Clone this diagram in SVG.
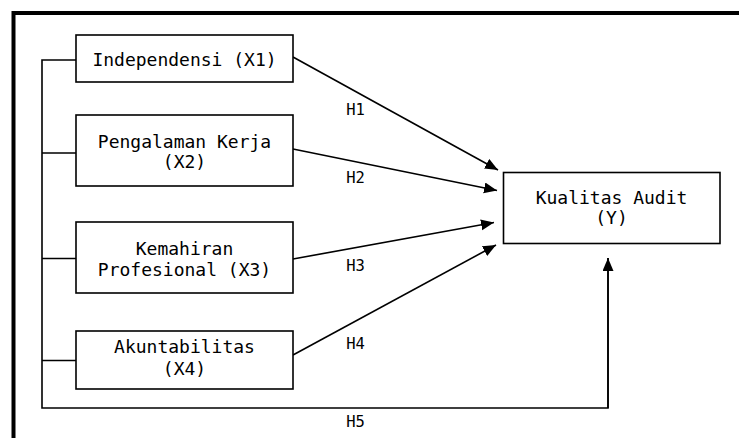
<svg xmlns="http://www.w3.org/2000/svg" width="739" height="438" viewBox="0 0 739 438">
<style>
.box{fill:#fff;stroke:#000;stroke-width:1.6}
.t{font-family:"DejaVu Sans Mono","Liberation Mono",monospace;font-size:18px;fill:#000;text-anchor:middle}
.h{font-family:"DejaVu Sans Mono","Liberation Mono",monospace;font-size:15.5px;fill:#000;text-anchor:middle}
.c{fill:none;stroke:#000;stroke-width:1.6}
</style>
<defs>
<marker id="ah" markerUnits="userSpaceOnUse" markerWidth="14" markerHeight="12" refX="13" refY="5.5" orient="auto">
<path d="M0,0 L13,5.5 L0,11 z" fill="#000"/>
</marker>
</defs>
<rect width="739" height="438" fill="#fff"/>
<path d="M13.5,438 V13 H739" fill="none" stroke="#000" stroke-width="4"/>
<g id="connectors">
<path class="c" d="M76,60 H42 V408 H608 V258"/>
<path class="c" d="M42,153 H76 M42,258.5 H76 M42,360.5 H76"/>
<line class="c" x1="608" y1="408" x2="608" y2="258" marker-end="url(#ah)"/>
<line class="c" x1="293" y1="57" x2="498" y2="170" marker-end="url(#ah)"/>
<line class="c" x1="293" y1="149" x2="497" y2="190.5" marker-end="url(#ah)"/>
<line class="c" x1="293" y1="259" x2="494" y2="222.5" marker-end="url(#ah)"/>
<line class="c" x1="293" y1="355" x2="496" y2="245" marker-end="url(#ah)"/>
<text class="h" x="355.5" y="115">H1</text>
<text class="h" x="355.5" y="183">H2</text>
<text class="h" x="355.5" y="271">H3</text>
<text class="h" x="355.5" y="349">H4</text>
<text class="h" x="355.5" y="427">H5</text>
</g>
<g id="x1">
<rect class="box" x="76" y="35" width="217" height="47"/>
<text class="t" x="184.5" y="66">Independensi (X1)</text>
</g>
<g id="x2">
<rect class="box" x="76" y="115" width="217" height="71"/>
<text class="t" x="184.5" y="148">Pengalaman Kerja</text>
<text class="t" x="184.5" y="168">(X2)</text>
</g>
<g id="x3">
<rect class="box" x="76" y="222" width="217" height="71"/>
<text class="t" x="184.5" y="255">Kemahiran</text>
<text class="t" x="184.5" y="276">Profesional (X3)</text>
</g>
<g id="x4">
<rect class="box" x="76" y="331" width="217" height="58"/>
<text class="t" x="184.5" y="353">Akuntabilitas</text>
<text class="t" x="184.5" y="375">(X4)</text>
</g>
<g id="y">
<rect class="box" x="503.5" y="172.5" width="216.5" height="71"/>
<text class="t" x="611.5" y="204">Kualitas Audit</text>
<text class="t" x="611.5" y="224">(Y)</text>
</g>
</svg>
